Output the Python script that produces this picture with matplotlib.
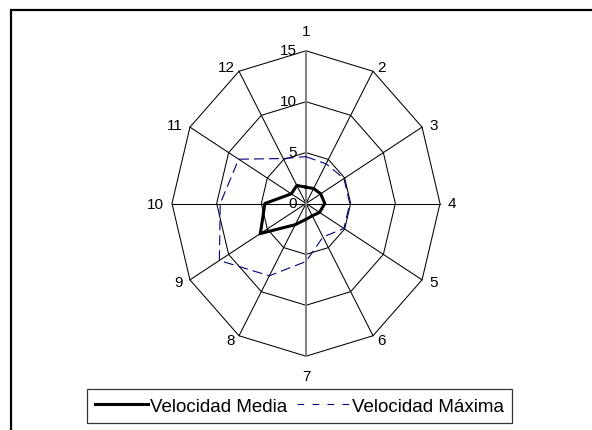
import numpy as np
import matplotlib
matplotlib.use("Agg")
import matplotlib.pyplot as plt
from matplotlib.lines import Line2D
from matplotlib.patches import Rectangle

plt.rcParams['font.family'] = ['Liberation Sans', 'DejaVu Sans']

categories = ['1', '2', '3', '4', '5', '6', '7', '8', '9', '10', '11', '12']
velocidad_media = [1.6, 1.7, 1.9, 2.1, 1.75, 1.4, 1.55, 2.4, 5.9, 4.6, 1.9, 2.05]
velocidad_maxima = [4.6, 4.5, 4.9, 4.9, 4.9, 3.8, 5.7, 8.2, 11.2, 9.6, 8.7, 5.1]
ring_values = [0, 5, 10, 15]
series_names = ['Velocidad Media', 'Velocidad Máxima']

W, H = 592, 431
fig = plt.figure(figsize=(W / 100, H / 100), dpi=100)

# axes placed so that centre/scale match reference (px)
cx, cy = 306.0, 204.5
rx, ry = 134.0, 152.7
rmax = 15.0
ax = fig.add_axes([(cx - rx) / W, (H - cy - ry) / H, 2 * rx / W, 2 * ry / H])
ax.set_xlim(-rmax, rmax)
ax.set_ylim(-rmax, rmax)
ax.axis('off')

n = len(categories)
theta = 2 * np.pi * np.arange(n) / n
sx, cyy = np.sin(theta), np.cos(theta)

def closed(vals):
    v = np.asarray(vals, float)
    x = v * sx
    y = v * cyy
    return np.append(x, x[0]), np.append(y, y[0])

# rings
for r in ring_values[1:]:
    x, y = closed([r] * n)
    ax.plot(x, y, color='black', lw=0.75, zorder=1, clip_on=False)
# spokes
for i in range(n):
    if i in (0, 6):
        continue
    ax.plot([0, rmax * sx[i]], [0, rmax * cyy[i]], color='black', lw=0.75, zorder=1, clip_on=False)
ax.plot([0, 0], [-rmax, rmax], color='#808080', lw=1.4, zorder=1, clip_on=False)

# ring labels
for r in ring_values:
    ax.annotate(str(r), xy=(0, r), xytext=(-9, 1), textcoords='offset pixels',
                ha='right', va='center', fontsize=11, color='black')

# category labels
for i, lab in enumerate(categories):
    s, c = sx[i], cyy[i]
    if abs(s) < 1e-6:
        off = (0, 19.5 * np.sign(c))
        ha = 'center'
    else:
        off = (8 * s, 5 * c)
        ha = 'left' if s > 0 else 'right'
    ax.annotate(lab, xy=(rmax * s, rmax * c), xytext=off, textcoords='offset pixels',
                ha=ha, va='center', fontsize=11, color='black', annotation_clip=False)

# series
x, y = closed(velocidad_media)
ax.plot(x, y, color='black', lw=2.2, zorder=3, clip_on=False, solid_joinstyle='miter')
x, y = closed(velocidad_maxima)
ax.plot(x, y, color='#000080', lw=0.8, ls=(0, (9, 4.5)), zorder=3, clip_on=False)

# outer border
fig.add_artist(Rectangle((10.5 / W, -0.01), 1.1, (H - 10.5) / H + 0.01, transform=fig.transFigure,
                         fill=False, edgecolor='black', lw=1.6))

handles = [Line2D([], [], color='black', lw=2.2),
           Line2D([], [], color='#000080', lw=0.8, ls=(0, (6, 7.5)))]
leg = fig.legend(handles, series_names, loc='center right', bbox_to_anchor=(512 / W, 1 - 407 / H),
                 ncol=2, frameon=True, fancybox=False, edgecolor='black', fontsize=13.5,
                 handlelength=2.83, handletextpad=0.12, columnspacing=0.48, borderpad=0.43,
                 borderaxespad=0)
leg.get_frame().set_linewidth(0.9)

fig.savefig('out.png', dpi=100)
